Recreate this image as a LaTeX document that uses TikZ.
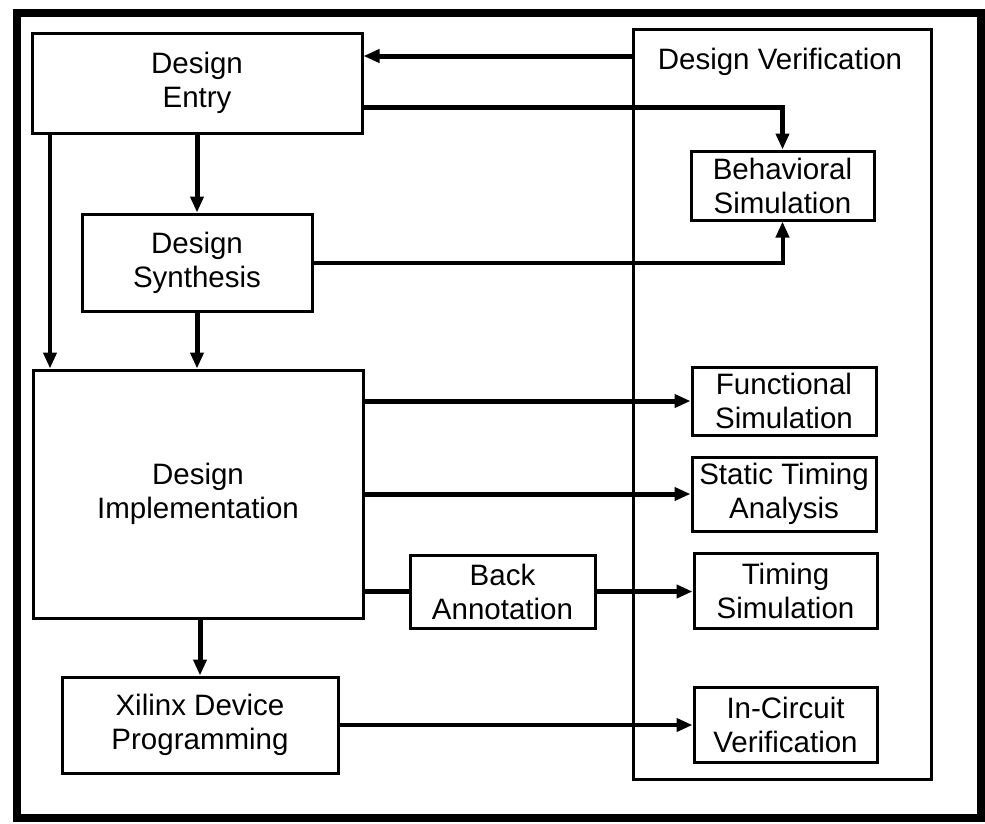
\documentclass[tikz,border=0pt]{standalone}
\usepackage{fontspec}
\setmainfont{Liberation Sans}
\usetikzlibrary{arrows.meta,calc}
\tikzset{
  blk/.style={draw, line width=3pt, align=center, inner sep=0pt, font=\fontsize{29.5}{34}\selectfont},
  arr/.style={line width=5pt, -{Triangle[length=16pt,width=13pt]}},
  arrthin/.style={line width=4pt, -{Triangle[length=16pt,width=13pt]}},
  ln/.style={line width=5pt},
}
\begin{document}
\begin{tikzpicture}[x=1pt,y=-1pt]
\useasboundingbox (0,0) rectangle (985,823);
\fill[white] (0,0) rectangle (985,823);
% outer frame
\draw[line width=8pt] (16.5,12.5) rectangle (980.5,817.5);
% verification group
\node[blk, minimum width=298pt, minimum height=750pt] (dv) at (782,404) {};
\node[font=\fontsize{29.5}{34}\selectfont] (dvt) at (780,62) {Design Verification};
% left column
\node[blk, minimum width=330pt, minimum height=100pt] (ent) at (197,83) {Design\\Entry};
\node[blk, minimum width=230pt, minimum height=97pt] (syn) at (197,262.5) {Design\\Synthesis};
\node[blk, minimum width=330pt, minimum height=248pt] (imp) at (198,494) {Design\\Implementation};
\node[blk, minimum width=276pt, minimum height=96pt] (xil) at (200,725) {Xilinx Device\\Programming};
\node[blk, minimum width=185pt, minimum height=73pt] (ban) at (502.5,591.5) {Back\\Annotation};
% right column
\node[blk, minimum width=183pt, minimum height=69pt] (beh) at (782.5,185.5) {Behavioral\\Simulation};
\node[blk, minimum width=184pt, minimum height=68pt] (fun) at (784,401) {Functional\\Simulation};
\node[blk, minimum width=184pt, minimum height=74pt] (sta) at (784,494) {Static Timing\\Analysis};
\node[blk, minimum width=183pt, minimum height=75pt] (tim) at (785.5,590.5) {Timing\\Simulation};
\node[blk, minimum width=183pt, minimum height=75pt] (icv) at (785.5,724.5) {In-Circuit\\Verification};
% connectors
\draw[arr] (dv.west |- 0,56) -- (ent.east |- 0,56);
\draw[arr] (ent.east |- 0,107) -| (beh.north);
\draw[arrthin] (syn.east) -| (beh.south);
\draw[arr] (ent.south) -- (syn.north);
\draw[arrthin] (ent.south -| 50,0) -- (imp.north -| 50,0);
\draw[arr] (syn.south) -- (imp.north -| syn.south);
\draw[arr] (imp.east |- fun.west) -- (fun.west);
\draw[arr] (imp.east |- sta.west) -- (sta.west);
\draw[ln] (imp.east |- ban.west) -- (ban.west);
\draw[arr] (ban.east) -- (tim.west |- ban.east);
\draw[arr] (imp.south -| xil.north) -- (xil.north);
\draw[arrthin] (xil.east) -- (icv.west |- xil.east);
\end{tikzpicture}
\end{document}
